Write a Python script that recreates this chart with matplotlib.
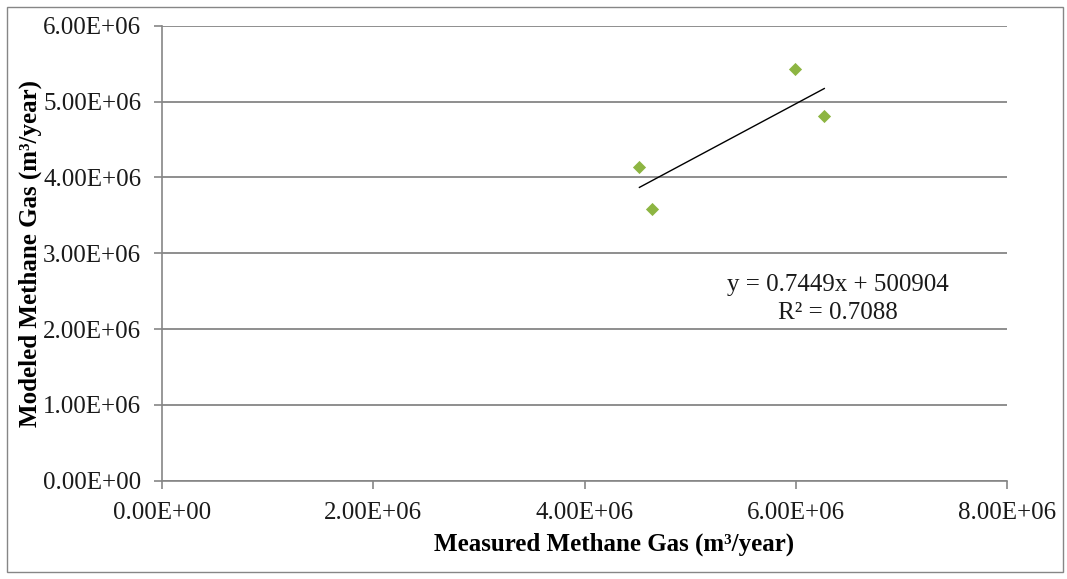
import numpy as np
import matplotlib.pyplot as plt
from matplotlib.patches import Rectangle

# data
measured = [4.52e6, 4.64e6, 5.99e6, 6.27e6]
modeled = [4.14e6, 3.58e6, 5.43e6, 4.81e6]
slope = 0.7449
intercept = 500904
r2 = 0.7088

x_ticks = [0, 2e6, 4e6, 6e6, 8e6]
y_ticks = [0, 1e6, 2e6, 3e6, 4e6, 5e6, 6e6]

plt.rcParams['font.family'] = ['Liberation Serif', 'DejaVu Serif']
grey = '#868686'

fig = plt.figure(figsize=(10.67, 5.79), dpi=100)
ax = fig.add_axes([162 / 1067, 1 - 480.7 / 579, 845 / 1067, 455 / 579])

ax.scatter(measured, modeled, marker='D', s=45, color='#8DB542', zorder=3, linewidths=0)
xs = np.array([min(measured), max(measured)])
ax.plot(xs, slope * xs + intercept, color='black', lw=1.0, zorder=2)

ax.set_xlim(0, 8e6)
ax.set_ylim(0, 6e6)
ax.set_xticks(x_ticks)
ax.set_yticks(y_ticks)
ax.set_xticklabels(['{:.2E}'.format(v) for v in x_ticks])
ax.set_yticklabels(['{:.2E}'.format(v) for v in y_ticks])
ax.tick_params(axis='both', labelsize=18, colors=grey, labelcolor='#1a1a1a',
               length=6, width=1.2, direction='out')
ax.tick_params(axis='y', pad=9)
ax.tick_params(axis='x', pad=9)
ax.grid(axis='y', color=grey, lw=1.3)
ax.set_axisbelow(True)
for s in ['top', 'right']:
    ax.spines[s].set_visible(False)
for s in ['left', 'bottom']:
    ax.spines[s].set_color(grey)
    ax.spines[s].set_linewidth(1.2)

ax.set_xlabel('Measured Methane Gas (m\u00b3/year)', fontsize=18, fontweight='bold')
ax.set_ylabel('Modeled Methane Gas (m\u00b3/year)', fontsize=18, fontweight='bold')
ax.xaxis.set_label_coords(0.5355, -0.113)
ax.yaxis.set_label_coords(-0.142, 0.5)

ax.text(6.4e6, 2.4e6, 'y = {}x + {}\nR\u00b2 = {}'.format(slope, intercept, r2),
        ha='center', va='center', fontsize=18, color='#1a1a1a', linespacing=1.35)

fig.patches.append(Rectangle((7 / 1067, 7 / 579), 1056 / 1067, 565 / 579, transform=fig.transFigure,
                             fill=False, edgecolor=grey, lw=1.0))

fig.savefig('out.png', dpi=100)
